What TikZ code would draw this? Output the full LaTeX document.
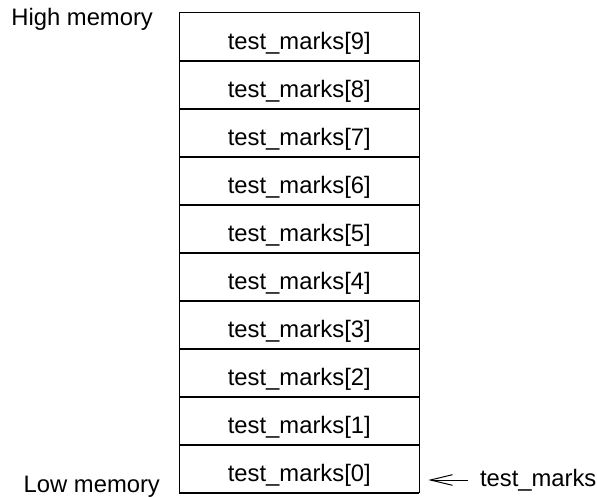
\documentclass[tikz,border=0pt]{standalone}
\usepackage{fontspec}
\setmainfont{Liberation Sans}
\usepackage{tikz}
\usetikzlibrary{arrows.meta,positioning}

\begin{document}
\begin{tikzpicture}[x=0.5pt,y=-0.5pt,
  cell/.style={draw,line width=0.5pt,minimum width=120pt,minimum height=24pt,
               inner sep=0pt,outer sep=0pt,text height=14.8pt,text depth=2pt,
               font=\fontsize{11.9}{14}\selectfont},
  side/.style={inner sep=0pt,anchor=base west,font=\fontsize{11.9}{14}\selectfont},
  ptrlbl/.style={inner xsep=6pt,inner ysep=0pt,outer sep=0pt,
                 font=\fontsize{11.9}{14}\selectfont},
  divider/.style={line width=0.9pt},
  ptr/.style={-{Straight Barb[length=11pt,width=5.3pt]},line width=0.5pt,
              shorten >=4.5pt}
]
\useasboundingbox (0,0) rectangle (597,496);
% the array, lowest address at the bottom
\node[cell] (cell0) at (299.3,468.7) {test\_marks[0]};
\node[cell,above=0pt of cell0] (cell1) {test\_marks[1]};
\node[cell,above=0pt of cell1] (cell2) {test\_marks[2]};
\node[cell,above=0pt of cell2] (cell3) {test\_marks[3]};
\node[cell,above=0pt of cell3] (cell4) {test\_marks[4]};
\node[cell,above=0pt of cell4] (cell5) {test\_marks[5]};
\node[cell,above=0pt of cell5] (cell6) {test\_marks[6]};
\node[cell,above=0pt of cell6] (cell7) {test\_marks[7]};
\node[cell,above=0pt of cell7] (cell8) {test\_marks[8]};
\node[cell,above=0pt of cell8] (cell9) {test\_marks[9]};
\foreach \i in {0,...,8}
  \draw[divider] (cell\i.north west) -- (cell\i.north east);
\draw[divider] (cell0.south west) -- (cell0.south east);
% memory ends
\node[side] (high) at (11,26) {High memory};
\node[side] (low) at (23.3,492) {Low memory};
% array name points at first element
\node[ptrlbl,right=24.35pt of cell0,yshift=-5.65pt] (tm) {test\_marks};
\draw[ptr] (tm.west) -- (tm.west -| cell0.east);
\end{tikzpicture}
\end{document}
